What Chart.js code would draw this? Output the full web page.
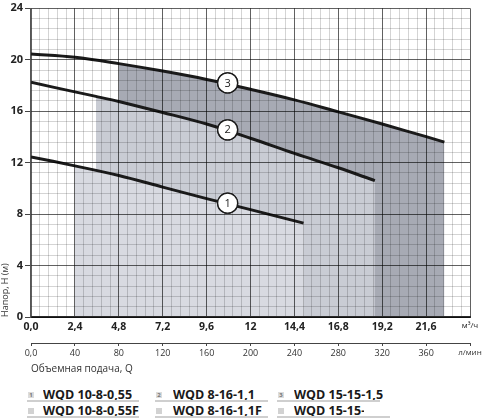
<!DOCTYPE html>
<html>
<head>
<meta charset="utf-8">
<script src="https://cdn.jsdelivr.net/npm/chart.js@4.4.0/dist/chart.umd.min.js"></script>
<style>
  body { margin: 0; background: #fff; font-family: 'Open Sans', sans-serif; }
  #page { position: relative; width: 485px; height: 419px; overflow: hidden; }
  #box { position: absolute; left: 0; top: -3px; width: 485px; height: 378px; }
  .lg-text { position: absolute; font-size: 12.5px; line-height: 12px; font-weight: 700; color: #1a1a1a; white-space: nowrap; overflow: hidden; }
  .lg-line { position: absolute; height: 2px; background: #cfcfcf; }
  .lg-num { position: absolute; width: 6px; height: 6px; background: #dcdcdc; color: #777; font-size: 6px; line-height: 6px; text-align: center; font-weight: 700; }
  .lg-box { position: absolute; width: 6px; height: 6px; background: #d2d2d2; }
</style>
</head>
<body>
<div id="page">
  <div id="box"><canvas id="pumpChart"></canvas></div>
</div>
<script>
// Кривые H(Q): подача, м³/ч и напор, м
const q1 = [0, 2.4, 4.8, 7.2, 9.6, 12, 14.9];
const h1 = [12.45, 11.75, 11.0, 10.1, 9.2, 8.35, 7.3];
const q2 = [0, 2.4, 3.55, 4.8, 7.2, 9.6, 12, 14.4, 16.8, 18.8];
const h2 = [18.25, 17.5, 17.15, 16.75, 15.9, 15.0, 13.9, 12.72, 11.6, 10.6];
const q3 = [0, 2.4, 4.8, 7.2, 9.6, 12, 14.4, 16.8, 19.2, 21.6, 22.6];
const h3 = [20.45, 20.2, 19.7, 19.12, 18.47, 17.7, 16.88, 15.95, 15.0, 14.02, 13.6];

// начало рабочей зоны (заливка) для каждой кривой
const workStart = [2.4, 3.55, 4.8];

// номера кривых в кружках
const markerQ = [10.75, 10.75, 10.75];
const markerH = [8.85, 14.55, 18.2];
const markerText = ['1', '2', '3'];

// подписи осей
const qTickLabels = ['0,0', '2,4', '4,8', '7,2', '9,6', '12', '14,4', '16,8', '19,2', '21,6', 'м³/ч'];
const lTickLabels = ['0,0', '40', '80', '120', '160', '200', '240', '280', '320', '360', 'л/мин'];
const hTickLabels = ['0', '4', '8', '12', '16', '20', '24'];

// легенда
const models = ['WQD 10-8-0,55', 'WQD 8-16-1,1', 'WQD 15-15-1,5'];
const modelsF = ['WQD 10-8-0,55F', 'WQD 8-16-1,1F', 'WQD 15-15-1,5F'];

const LINE = '#1b1b1b';
const fillColors = ['#d8dae1', '#c9ccd4', '#a7aab4'];

const pts = (q, h) => q.map((x, i) => ({ x: x, y: h[i] }));
const curves = [pts(q1, h1), pts(q2, h2), pts(q3, h3)];
const zones = curves.map((c, i) => c.filter(p => p.x >= workStart[i]));

const isMajor = (v, step) => Math.abs(v / step - Math.round(v / step)) < 1e-6;

const datasets = [];
// заливки: 3 сзади, 1 спереди
[2, 1, 0].forEach(i => {
    datasets.push({
        data: zones[i],
        order: i + 1,
        borderWidth: 0,
        pointRadius: 0,
        backgroundColor: fillColors[i],
        fill: 'origin',
        tension: 0.35
    });
});
curves.forEach(c => {
    datasets.push({
        data: c,
        order: 0,
        borderColor: LINE,
        borderWidth: 3,
        pointRadius: 0,
        fill: false,
        tension: 0.35
    });
});
datasets.push({
    data: pts(markerQ, markerH),
    order: -1,
    showLine: false,
    pointRadius: 10,
    pointBackgroundColor: '#fff',
    pointBorderColor: LINE,
    pointBorderWidth: 1.3
});

// кружки поверх сетки + цифры
const markerPlugin = {
    id: 'markers',
    afterDraw(chart) {
        const idx = chart.data.datasets.length - 1;
        const meta = chart.getDatasetMeta(idx);
        const ctx = chart.ctx;
        meta.controller.draw();
        ctx.save();
        ctx.font = '11px "Open Sans"';
        ctx.fillStyle = LINE;
        ctx.textAlign = 'center';
        ctx.textBaseline = 'middle';
        meta.data.forEach((p, i) => ctx.fillText(markerText[i], p.x, p.y + 0.5));
        ctx.restore();
    }
};

const ctx = document.getElementById('pumpChart').getContext('2d');
new Chart(ctx, {
    type: 'line',
    data: { datasets: datasets },
    options: {
        responsive: true,
        maintainAspectRatio: false,
        animation: false,
        events: [],
        layout: { padding: { left: 0, right: 15, top: 0, bottom: 0 } },
        plugins: { legend: { display: false }, tooltip: { enabled: false } },
        scales: {
            x: {
                type: 'linear',
                position: 'bottom',
                weight: 0,
                min: 0,
                max: 24,
                afterBuildTicks: s => { s.ticks = Array.from({ length: 51 }, (_, i) => ({ value: i * 0.48 })); },
                afterFit: s => { s.height = 26; },
                grid: {
                    z: 1,
                    drawTicks: false,
                    color: c => isMajor(c.tick.value, 2.4) ? 'rgba(0,0,0,0.62)' : 'rgba(0,0,0,0.17)',
                    lineWidth: 1
                },
                border: { z: 1, display: true, color: '#2a2a2a', width: 2 },
                ticks: {
                    autoSkip: false,
                    maxRotation: 0,
                    padding: 4,
                    color: '#222',
                    font: c => (c.tick && c.tick.value > 23.9)
                        ? { family: 'Open Sans', size: 8, weight: 'normal' }
                        : { family: 'Open Sans', size: 10.5, weight: 'bold' },
                    callback: v => isMajor(v, 2.4) ? qTickLabels[Math.round(v / 2.4)] : ''
                }
            },
            x2: {
                type: 'linear',
                position: 'bottom',
                weight: 1,
                min: 0,
                max: 400,
                afterFit: s => { s.height = 32; },
                grid: { drawOnChartArea: false, drawTicks: true, tickLength: 3, color: '#444' },
                border: { display: true, color: '#444', width: 1 },
                ticks: {
                    stepSize: 40,
                    autoSkip: false,
                    maxRotation: 0,
                    padding: 2,
                    color: '#333',
                    font: c => (c.tick && c.tick.value > 399)
                        ? { family: 'Open Sans', size: 8 }
                        : { family: 'Open Sans', size: 9 },
                    callback: v => lTickLabels[Math.round(v / 40)]
                },
                title: {
                    display: true,
                    text: 'Объемная подача, Q',
                    align: 'start',
                    color: '#333',
                    font: { family: 'Open Sans', size: 10 },
                    padding: { top: 0, bottom: 0 }
                }
            },
            y: {
                type: 'linear',
                min: 0,
                max: 24,
                afterBuildTicks: s => { s.ticks = Array.from({ length: 31 }, (_, i) => ({ value: i * 0.8 })); },
                afterFit: s => { s.width = 31; },
                grid: {
                    z: 1,
                    drawTicks: true,
                    tickLength: 6,
                    color: c => isMajor(c.tick.value, 4) ? 'rgba(0,0,0,0.62)' : 'rgba(0,0,0,0.17)',
                    tickColor: c => isMajor(c.tick.value, 4) ? '#444' : 'rgba(0,0,0,0)',
                    lineWidth: 1
                },
                border: { z: 1, display: true, color: '#555', width: 1.2 },
                ticks: {
                    autoSkip: false,
                    padding: 2,
                    color: '#222',
                    font: { family: 'Open Sans', size: 11, weight: 'bold', lineHeight: 1 },
                    callback: v => isMajor(v, 4) ? hTickLabels[Math.round(v / 4)] : ''
                },
                title: {
                    display: true,
                    text: 'Напор, H (м)',
                    align: 'start',
                    color: '#333',
                    font: { family: 'Open Sans', size: 9 },
                    padding: 0
                }
            }
        }
    },
    plugins: [markerPlugin]
});

// легенда под графиком
const page = document.getElementById('page');
const colX = [27, 155, 277];
const textX = [43, 173, 294];
const lineW1 = [112, 113, 103];
const lineW2 = [112, 113, 113];
const textW2 = [200, 200, 70];
function add(cls, left, top, width, text) {
    const d = document.createElement('div');
    d.className = cls;
    d.style.left = left + 'px';
    d.style.top = top + 'px';
    if (width) d.style.width = width + 'px';
    if (text) d.textContent = text;
    page.appendChild(d);
}
models.forEach((m, i) => {
    add('lg-num', colX[i] + 1, 392, 0, String(i + 1));
    add('lg-text', textX[i], 389, 0, m);
    add('lg-line', colX[i], 400, lineW1[i]);
    add('lg-box', colX[i] + 1, 408, 0);
    add('lg-text', textX[i], 405, textW2[i], modelsF[i]);
    add('lg-line', colX[i], 416, lineW2[i]);
});
</script>
</body>
</html>
